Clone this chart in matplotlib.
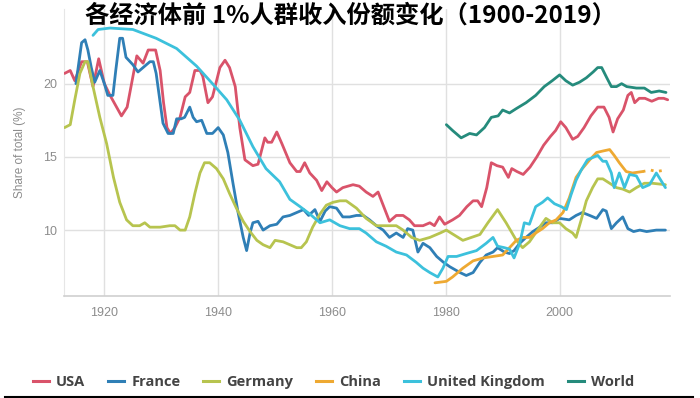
import matplotlib
matplotlib.use("Agg")
import matplotlib.pyplot as plt
from matplotlib.lines import Line2D

plt.rcParams['font.family'] = ['Liberation Sans', 'DejaVu Sans']

# values (share of income, %)
usa_years = [1913, 1914, 1914.8, 1916, 1917, 1918, 1919, 1920, 1921, 1923,
             1924, 1925.7, 1926.8, 1927.7, 1929, 1929.8, 1930.4, 1931, 1931.6, 1932.4,
             1933.3, 1934.2, 1935, 1935.9, 1936.8, 1937.3, 1938.2, 1939, 1940.3, 1941.2,
             1942, 1943, 1943.8, 1944.7, 1946.1, 1947, 1948.2, 1948.7, 1949.4, 1950.3,
             1951.2, 1952.6, 1953.8, 1954.4, 1955.2, 1956.1, 1957.3, 1958.2, 1959.1, 1960,
             1960.8, 1961.9, 1963.7, 1964.8, 1966, 1967.2, 1968.1, 1969, 1970.1, 1971.3,
             1972.5, 1973.6, 1974.5, 1976, 1977.2, 1978, 1978.9, 1979.8, 1981.2, 1982.4,
             1983.7, 1984.8, 1985.6, 1986.3, 1987.2, 1988, 1989, 1990, 1991, 1991.6,
             1992.5, 1993.6, 1994.8, 1996, 1997.2, 1998.4, 1999.3, 2000.2, 2001.1, 2002.3,
             2003.2, 2004.3, 2005.5, 2006.7, 2007.8, 2008.7, 2009.4, 2010.2, 2011.2, 2012,
             2012.6, 2013.2, 2014, 2015, 2016.2, 2017.4, 2018.3, 2019]
usa = [20.7, 20.9, 20.2, 21.5, 21.5, 19.8, 21.7, 20.0, 19.2, 17.8,
       18.4, 21.9, 21.4, 22.3, 22.3, 20.9, 18.7, 17.0, 16.6, 17.0,
       17.7, 19.1, 19.4, 20.9, 20.9, 20.5, 18.7, 19.1, 21.1, 21.6,
       21.1, 19.8, 17.0, 14.8, 14.4, 14.5, 16.3, 16.0, 16.0, 16.7,
       15.9, 14.6, 14.0, 14.0, 14.6, 13.9, 13.4, 12.7, 13.3, 12.9,
       12.6, 12.9, 13.1, 13.0, 12.6, 12.3, 12.6, 11.7, 10.6, 11.0,
       11.0, 10.7, 10.3, 10.3, 10.5, 10.3, 10.9, 10.4, 10.7, 11.0,
       11.6, 12.0, 12.0, 11.6, 12.9, 14.6, 14.4, 14.3, 13.6, 14.2,
       14.0, 13.8, 14.3, 15.0, 15.8, 16.4, 16.8, 17.4, 17.0, 16.2,
       16.4, 17.0, 17.8, 18.4, 18.4, 17.7, 16.7, 17.6, 18.2, 19.2,
       19.4, 18.7, 19.0, 19.0, 18.8, 19.0, 19.0, 18.9]

france_years = [1915, 1916, 1916.6, 1917.1, 1917.7, 1918.3, 1919.2, 1920, 1920.6, 1921.5,
                1922, 1922.7, 1923.2, 1923.8, 1925, 1925.9, 1926.8, 1928, 1928.6, 1929.1,
                1929.7, 1930.3, 1931.2, 1932.1, 1932.7, 1933.5, 1934.1, 1935, 1935.6, 1936.2,
                1937.1, 1938, 1939, 1940, 1940.9, 1941.7, 1942.6, 1943.5, 1944.4, 1945,
                1945.6, 1946.1, 1947, 1947.9, 1949.1, 1950.3, 1951.4, 1952.6, 1953.8, 1955,
                1955.9, 1957, 1957.9, 1958.8, 1959.6, 1960.8, 1961.9, 1963.1, 1964.3, 1965.5,
                1966.6, 1967.8, 1969, 1970.1, 1971.3, 1972.5, 1973.3, 1974.2, 1975.1, 1976,
                1977.2, 1978.4, 1979.6, 1980.7, 1982.5, 1983.6, 1984.8, 1986, 1987.1, 1988.3,
                1989.1, 1990.3, 1991.2, 1992, 1993, 1994.1, 1995.3, 1996.5, 1997.6, 1998.8,
                2000, 2001.7, 2002.9, 2004, 2005.3, 2006.5, 2007.6, 2008.2, 2009.1, 2010,
                2011.1, 2012, 2013, 2014.1, 2015.3, 2017, 2018.6]
france = [20.0, 22.8, 23.0, 22.3, 21.1, 20.1, 20.9, 20.0, 19.2, 19.2,
          20.9, 23.1, 23.1, 21.8, 21.3, 20.8, 21.1, 21.5, 21.5, 20.7,
          19.0, 17.3, 16.6, 16.6, 17.6, 17.6, 17.7, 18.4, 17.7, 17.4,
          17.5, 16.6, 16.6, 17.0, 16.5, 15.3, 13.2, 11.2, 9.5, 8.6,
          9.8, 10.5, 10.6, 10.0, 10.3, 10.4, 10.9, 11.0, 11.2, 11.4,
          11.0, 11.4, 10.6, 11.3, 11.6, 11.5, 10.9, 10.9, 11.0, 11.0,
          10.7, 10.3, 10.0, 9.5, 9.8, 9.5, 10.1, 10.0, 8.5, 9.1,
          8.8, 8.2, 7.8, 7.5, 7.1, 6.9, 7.1, 7.8, 8.3, 8.5,
          8.8, 8.5, 8.4, 8.6, 9.1, 9.5, 9.9, 10.2, 10.5, 10.5,
          10.8, 10.7, 11.0, 11.2, 11.0, 10.8, 11.4, 11.3, 10.1, 10.5,
          10.9, 10.1, 9.9, 10.0, 9.9, 10.0, 10.0]

germany_years = [1913, 1914, 1914.8, 1915.7, 1916.6, 1917.1, 1918, 1919.2, 1920.4, 1921.6,
                 1922.7, 1923.9, 1925, 1926.2, 1927.1, 1928, 1929.8, 1931.5, 1932.4, 1933.3,
                 1934.2, 1935, 1935.9, 1936.8, 1937.6, 1938.5, 1939.7, 1940.9, 1942, 1943.2,
                 1944.4, 1945.6, 1946.8, 1947.9, 1949.1, 1950, 1951.4, 1952.6, 1953.8, 1954.6,
                 1955.5, 1956.6, 1957.9, 1959, 1960.2, 1961.4, 1962.5, 1964.3, 1966, 1967.8,
                 1969.5, 1971.3, 1972.5, 1974, 1975.4, 1977.2, 1979, 1980.1, 1983, 1986,
                 1987.4, 1989.1, 1990.6, 1992.4, 1993.5, 1994.7, 1996.5, 1997.6, 1998.8, 2000,
                 2001.1, 2002.3, 2002.9, 2003.8, 2004.7, 2005.8, 2006.7, 2007.6, 2008.8, 2010,
                 2011.1, 2012.3, 2013.5, 2014.9, 2016.3, 2018.6]
germany = [17.0, 17.2, 18.9, 20.7, 21.5, 21.5, 19.8, 17.7, 15.9, 13.6,
           11.9, 10.7, 10.3, 10.3, 10.5, 10.2, 10.2, 10.3, 10.3, 10.0,
           10.0, 10.9, 12.5, 13.9, 14.6, 14.6, 14.2, 13.5, 12.5, 11.5,
           10.6, 9.9, 9.3, 9.0, 8.8, 9.3, 9.2, 9.0, 8.8, 8.8,
           9.2, 10.2, 11.1, 11.7, 11.9, 12.0, 12.0, 11.5, 10.8, 10.3,
           10.3, 10.3, 10.0, 9.5, 9.3, 9.5, 9.8, 10.0, 9.3, 9.7,
           10.5, 11.4, 10.5, 9.3, 8.8, 9.2, 10.2, 10.8, 10.5, 10.5,
           10.1, 9.8, 9.5, 10.7, 12.0, 12.9, 13.5, 13.5, 13.2, 12.9,
           12.8, 12.6, 12.9, 13.2, 13.2, 13.1]

china_years = [1978.1, 1980.1, 1981.2, 1983, 1984.8, 1986.6, 1988.3, 1990, 1991.2, 1992.4,
               1993.5, 1994.7, 1995.8, 1997, 1998.2, 1999.4, 2000.6, 2001.7, 2002.9, 2004,
               2005.3, 2006.5, 2007.6, 2008.8, 2009.6, 2010.5, 2011.7, 2012.8, 2014.6]
china = [6.4, 6.5, 6.8, 7.4, 7.9, 8.1, 8.2, 8.3, 8.8, 9.3,
         9.5, 9.5, 9.8, 10.1, 10.5, 10.7, 11.2, 12.2, 13.6, 14.2,
         14.8, 15.3, 15.4, 15.5, 15.1, 14.6, 14.0, 13.9, 14.0]
# dotted tail of the China series
china_tail_years = [2014.6, 2016, 2017, 2018.6]
china_tail = [14.0, 14.1, 14.0, 14.1]

uk_years = [1918, 1918.9, 1921, 1925, 1929.1, 1932.7, 1936.2, 1939, 1941.5, 1943.8,
            1946.1, 1948.4, 1950.8, 1952.6, 1954.4, 1956.1, 1957.9, 1959.6, 1961.4, 1963.1,
            1964.8, 1966, 1967.8, 1969.5, 1971.3, 1973.1, 1974.8, 1976, 1977.2, 1978.6,
            1979.5, 1980.4, 1981.9, 1983.6, 1985.4, 1987.1, 1988.3, 1989.1, 1990.3, 1991.2,
            1992, 1993, 1993.8, 1994.7, 1995.8, 1997, 1997.9, 1999.1, 2000.3, 2001.2,
            2002, 2002.9, 2003.8, 2004.9, 2006.1, 2006.7, 2007.6, 2008.2, 2009.1, 2009.6,
            2010.5, 2011.4, 2012.3, 2013.5, 2014.6, 2015.8, 2017, 2018.6]
uk = [23.3, 23.7, 23.8, 23.7, 23.1, 22.4, 21.2, 20.0, 18.9, 17.5,
      15.7, 14.2, 13.3, 12.1, 11.6, 11.1, 10.5, 10.7, 10.3, 10.1,
      10.1, 9.8, 9.2, 8.9, 8.5, 8.3, 7.8, 7.4, 7.1, 6.8,
      7.4, 8.2, 8.2, 8.4, 8.6, 9.1, 9.5, 8.9, 8.8, 8.7,
      8.1, 9.1, 10.5, 10.4, 11.6, 11.9, 12.2, 11.8, 11.6, 11.4,
      12.4, 13.4, 14.1, 14.8, 15.0, 15.1, 14.7, 14.7, 13.9, 12.9,
      13.9, 12.9, 13.8, 13.7, 12.9, 13.1, 13.9, 12.9]

world_years = [1980.1, 1981.2, 1982.7, 1984.2, 1985.4, 1986.8, 1988, 1989.2, 1990, 1991.2,
               1992.4, 1994.1, 1995.8, 1997.3, 1998.7, 2000, 2001.1, 2002.3, 2003.5, 2004.7,
               2005.9, 2006.7, 2007.4, 2008.3, 2009.1, 2010, 2010.9, 2011.8, 2013.5, 2014.9,
               2016.1, 2017.5, 2018.7]
world = [17.2, 16.8, 16.3, 16.6, 16.5, 17.0, 17.7, 17.8, 18.2, 18.0,
         18.3, 18.7, 19.2, 19.8, 20.2, 20.6, 20.2, 19.9, 20.1, 20.4,
         20.8, 21.1, 21.1, 20.4, 19.8, 19.8, 20.0, 19.8, 19.7, 19.7,
         19.4, 19.5, 19.4]

names = ['USA', 'France', 'Germany', 'China', 'United Kingdom', 'World']
colors = ['#d9536a', '#2f7fb6', '#b7c44f', '#eea932', '#3cc1dc', '#258b7c']

fig = plt.figure(figsize=(7, 3.98), dpi=100)
ax = fig.add_axes([0.0914, 0.2563, 0.8657, 0.7211])

series = [(usa_years, usa), (france_years, france), (germany_years, germany),
          (china_years, china), (uk_years, uk), (world_years, world)]
handles = []
for (xs, ys), name, c in zip(series, names, colors):
    ax.plot(xs, ys, color=c, lw=2, solid_joinstyle='round', solid_capstyle='round', zorder=3)
    handles.append(Line2D([], [], color=c, lw=2.2, label=name))
ax.plot(china_tail_years, china_tail, color=colors[3], lw=2, ls=(0, (1, 2)), zorder=3)

ax.set_xlim(1912.9, 2019.4)
ax.set_ylim(5.5, 25.1)
ax.set_xticks([1920, 1940, 1960, 1980, 2000])
ax.set_yticks([10, 15, 20])
ax.grid(True, color='#e0e0e0', lw=1)
ax.set_axisbelow(True)
for s in ['top', 'right']:
    ax.spines[s].set_visible(False)
ax.spines['left'].set_color('#e6e6e6')
ax.spines['bottom'].set_color('#d0d0d0')
ax.spines['bottom'].set_linewidth(1.2)
ax.tick_params(length=0, labelsize=9, labelcolor='#8c8c8c')
ax.tick_params(axis='x', pad=8)
ax.tick_params(axis='y', pad=5)
ax.set_ylabel('Share of total (%)', fontsize=8.5, color='#8c8c8c', labelpad=12)

fig.text(0.5, 0.962, '各经济体前 1%人群收入份额变化（1900-2019）',
         family=['Noto Sans CJK SC', 'DejaVu Sans'], fontweight='bold',
         fontsize=17.5, ha='center', va='center', color='black')

fig.legend(handles=handles, loc='center left', bbox_to_anchor=(0.047, 1 - 382 / 398),
           ncol=6, frameon=False, borderpad=0, borderaxespad=0,
           handlelength=1.1, handletextpad=0.5, columnspacing=1.55,
           prop={'family': 'Open Sans', 'weight': 'bold', 'size': 10.5},
           labelcolor='#444444')

fig.add_artist(Line2D([5 / 700, 693 / 700], [0.003, 0.003], color='black', lw=1.5))

fig.savefig('out.png', dpi=100)
